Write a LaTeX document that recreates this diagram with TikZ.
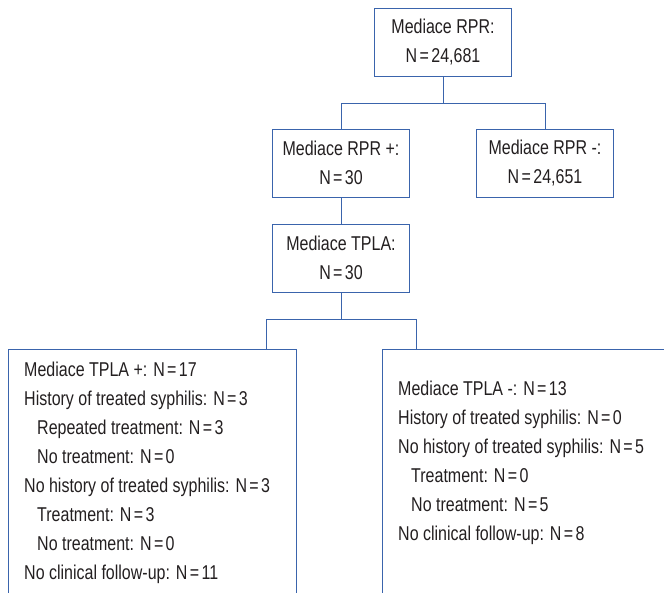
\documentclass[tikz,border=0pt]{standalone}
\usepackage{fontspec}
\setmainfont{Liberation Sans}[FakeStretch=0.8]
\definecolor{boxblue}{RGB}{58,100,172}
\definecolor{txt}{RGB}{35,31,32}
\newcommand\eqs{\kern2.4pt=\kern2.4pt}
\begin{document}
\begin{tikzpicture}[x=1pt,y=-1pt,
  box/.style={draw=boxblue,line width=1pt,text=txt,align=center,
    minimum width=137pt,minimum height=68pt,inner sep=0pt,
    font={\fontsize{20}{29}\selectfont}},
  lst/.style={text=txt,align=left,inner sep=0pt,anchor=west,
    font={\fontsize{20}{29}\selectfont}},
  conn/.style={draw=boxblue,line width=1pt}]
\useasboundingbox (0,0) rectangle (664,592);
\clip (0,0) rectangle (664,592);
\node[box] (top) at (443,42) {Mediace RPR:\\N\eqs24,681};
\node[box] (rprp) at (341,163) {Mediace RPR +:\\N\eqs30};
\node[box] (rprm) at (545,163) {Mediace RPR -:\\N\eqs24,651};
\node[box] (tpla) at (341,258) {Mediace TPLA:\\N\eqs30};
\coordinate (j1) at (443,103);
\coordinate (j2) at (341,319);
\coordinate (lt) at (266,349);
\coordinate (rt) at (416,349);
\draw[conn] (top.south) -- (j1);
\draw[conn] (rprp.north) |- (j1);
\draw[conn] (rprm.north) |- (j1);
\draw[conn] (rprp.south) -- (tpla.north);
\draw[conn] (tpla.south) -- (j2);
\draw[conn] (lt) |- (j2);
\draw[conn] (rt) |- (j2);
% open-ended bottom boxes
\draw[conn] (8,600) -- (8,349) -- (296,349) -- (296,600);
\draw[conn] (382,600) -- (382,349) -- (670,349);
\node[lst] (lefttext) at (24,472.5) {Mediace TPLA +: N\eqs17\\
History of treated syphilis: N\eqs3\\
\hspace*{13pt}Repeated treatment: N\eqs3\\
\hspace*{13pt}No treatment: N\eqs0\\
No history of treated syphilis: N\eqs3\\
\hspace*{13pt}Treatment: N\eqs3\\
\hspace*{13pt}No treatment: N\eqs0\\
No clinical follow-up: N\eqs11};
\node[lst] (righttext) at (398,462.5) {Mediace TPLA -: N\eqs13\\
History of treated syphilis: N\eqs0\\
No history of treated syphilis: N\eqs5\\
\hspace*{13pt}Treatment: N\eqs0\\
\hspace*{13pt}No treatment: N\eqs5\\
No clinical follow-up: N\eqs8};
\end{tikzpicture}
\end{document}
